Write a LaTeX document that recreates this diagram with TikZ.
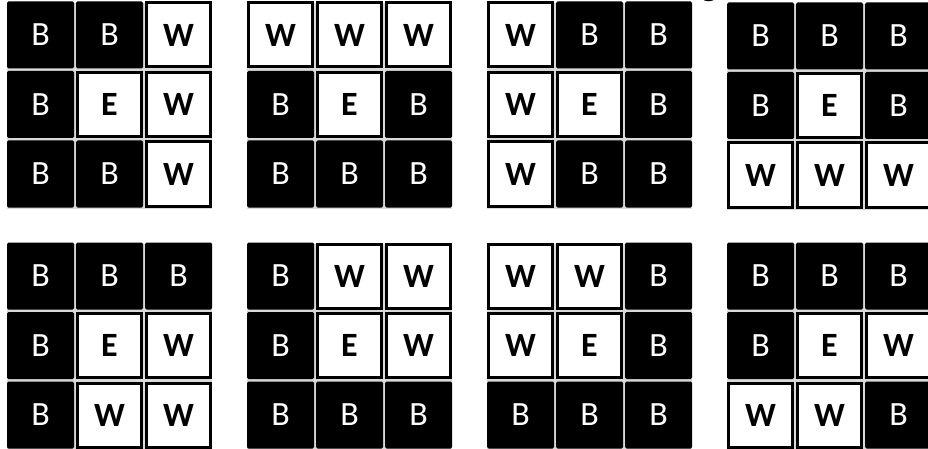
\documentclass[tikz,border=0pt]{standalone}
\usepackage{fontspec}
\setmainfont{Carlito}
\newfontfamily\titlefont{Liberation Serif}
\begin{document}
\begin{tikzpicture}[x=1pt,y=-1pt,
  cellbase/.style={minimum size=67pt, inner sep=0pt, font=\fontsize{34}{34}\selectfont},
  cellB/.style={cellbase, fill=black, text=white, rounded corners=1.5pt},
  cellW/.style={cellbase, minimum size=64pt, fill=white, draw=black, line width=3pt,
                font=\bfseries\fontsize{34}{34}\selectfont},
  cellE/.style={cellW},
  gapbg/.style={fill=gray!30},
  titlefrag/.style={font=\titlefont\bfseries\fontsize{28}{28}\selectfont, anchor=base, inner sep=0pt}]
\useasboundingbox (0,0) rectangle (928,449);
\node[titlefrag] (tp) at (491,-5) {p};
\node[titlefrag] (tg) at (709,-4) {g};
\foreach \g/\gx/\gy/\cells in {
  1/7/3/{B,B,W,B,E,W,B,B,W},
  2/247/3/{W,W,W,B,E,B,B,B,B},
  3/487/3/{W,B,B,W,E,B,W,B,B},
  4/727/4/{B,B,B,B,E,B,W,W,W},
  5/7/244/{B,B,B,B,E,W,B,W,W},
  6/247/244/{B,W,W,B,E,W,B,B,B},
  7/487/244/{W,W,B,W,E,B,B,B,B},
  8/727/244/{B,B,B,B,E,W,W,W,B}} {
  \fill[gapbg] (\gx,\gy) rectangle ++(205,206);
  \foreach \t [count=\i from 0] in \cells {
    \pgfmathtruncatemacro{\r}{int(\i/3)}
    \pgfmathtruncatemacro{\c}{mod(\i,3)}
    \node[cell\t] (g\g-\i) at ({\gx+69*\c+33.5},{\gy+69.5*\r+32}) {\t};
  }
}
\end{tikzpicture}
\end{document}
